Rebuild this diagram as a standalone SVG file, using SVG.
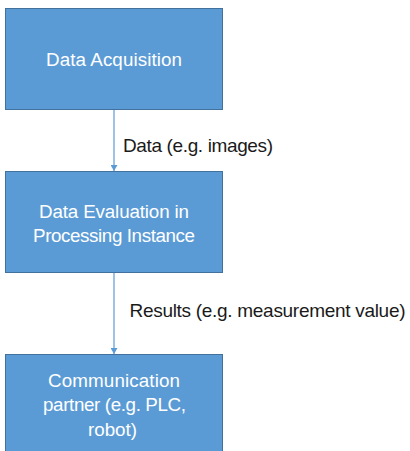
<svg xmlns="http://www.w3.org/2000/svg" width="410" height="451" viewBox="0 0 410 451">
  <style>
    .box { fill: #5B9BD5; stroke: #41719C; stroke-width: 1; }
    .box-text { fill: #FFFFFF; font-family: "Liberation Sans", Arial, sans-serif; font-size: 18.8px; text-anchor: middle; }
    .label { fill: #1A1A1A; font-family: "Liberation Sans", Arial, sans-serif; font-size: 19px; }
    .edge { stroke: #5B9BD5; stroke-width: 1.2; fill: none; }
  </style>
  <defs>
    <marker id="arrow" markerWidth="7" markerHeight="7" refX="6" refY="3.5" orient="auto" markerUnits="userSpaceOnUse">
      <path d="M0,0 L6,3.5 L0,7 Z" fill="#5B9BD5"/>
    </marker>
  </defs>
  <rect width="410" height="451" fill="#FFFFFF"/>

  <g id="connectors">
    <line class="edge" x1="114" y1="109" x2="114" y2="171" marker-end="url(#arrow)"/>
    <text class="label" x="123" y="151.5" textLength="150">Data (e.g. images)</text>
    <line class="edge" x1="114" y1="272" x2="114" y2="354" marker-end="url(#arrow)"/>
    <text class="label" x="129.5" y="317" textLength="276">Results (e.g. measurement value)</text>
  </g>

  <g id="data-acquisition">
    <rect class="box" x="5.5" y="8.5" width="217" height="101"/>
    <text class="box-text" x="114" y="65.5" textLength="136">Data Acquisition</text>
  </g>

  <g id="data-evaluation">
    <rect class="box" x="5.5" y="171.5" width="217" height="101"/>
    <text class="box-text" x="114" y="217.5" textLength="150">Data Evaluation in</text>
    <text class="box-text" x="114" y="241.5" textLength="162">Processing Instance</text>
  </g>

  <g id="communication-partner">
    <rect class="box" x="5.5" y="354.5" width="217" height="110"/>
    <text class="box-text" x="114" y="386.5" textLength="132">Communication</text>
    <text class="box-text" x="114.5" y="410.5" textLength="143">partner (e.g. PLC,</text>
    <text class="box-text" x="112.5" y="435.5" textLength="49">robot)</text>
  </g>
</svg>
